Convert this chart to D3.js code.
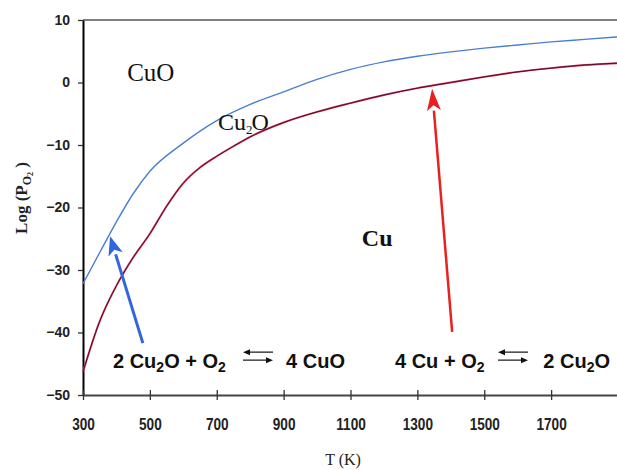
<!DOCTYPE html>
<html>
<head>
<meta charset="utf-8">
<script src="https://cdn.jsdelivr.net/npm/d3@7"></script>
<style>
  html, body { margin: 0; padding: 0; background: #fff; }
  svg { display: block; }
</style>
</head>
<body>
<svg id="chart" width="617" height="470"></svg>
<script>
// ---- data ----
const xTicks = [300, 500, 700, 900, 1100, 1300, 1500, 1700];
const yTicks = [10, 0, -10, -20, -30, -40, -50];

// CuO / Cu2O boundary (blue)
const tempBlue = [300, 350, 400, 450, 500, 600, 700, 800, 900, 1000, 1100, 1200, 1300, 1400, 1500, 1600, 1700, 1800, 1900];
const logBlue  = [-32.2, -27.2, -22.3, -17.8, -14.2, -9.7, -6.1, -3.5, -1.5, 0.5, 2.1, 3.3, 4.2, 4.9, 5.5, 6.0, 6.5, 6.9, 7.3];

// Cu2O / Cu boundary (red)
const tempRed = [300, 350, 400, 450, 500, 550, 600, 650, 700, 750, 800, 900, 1000, 1100, 1200, 1300, 1400, 1500, 1600, 1700, 1800, 1900];
const logRed  = [-46.3, -38.2, -32.5, -28.0, -24.2, -19.8, -16.1, -13.6, -11.8, -10.2, -8.7, -6.4, -4.7, -3.3, -2.0, -0.9, 0.0, 0.9, 1.7, 2.3, 2.8, 3.1];

// ---- layout ----
const svg = d3.select("#chart");
const x = d3.scaleLinear().domain([300, 1900]).range([83, 618]);
const y = d3.scaleLinear().domain([-50, 10]).range([395, 20]);

// top border
svg.append("line").attr("x1", x(300)).attr("x2", 617).attr("y1", y(10)).attr("y2", y(10))
  .attr("stroke", "#555").attr("stroke-width", 1.5);

// y axis
const yAxis = svg.append("g").attr("transform", `translate(${x(300)},0)`)
  .call(d3.axisLeft(y).tickValues(yTicks).tickSize(5).tickSizeOuter(0).tickPadding(8));
yAxis.select(".domain").attr("stroke", "#000").attr("stroke-width", 2);
yAxis.selectAll(".tick line").attr("stroke", "#333").attr("stroke-width", 1.3);
yAxis.selectAll(".tick text")
  .attr("font-family", "'Liberation Sans', Arial, sans-serif")
  .attr("font-weight", "bold").attr("font-size", 14).attr("fill", "#222")
  .attr("x", -13);

// x axis
const xAxis = svg.append("g").attr("transform", `translate(0,${y(-50)})`)
  .call(d3.axisBottom(x).tickValues(xTicks).tickSize(0).tickSizeOuter(0).tickPadding(0)
        .tickFormat(d3.format("d")));
xAxis.select(".domain").attr("stroke", "#444").attr("stroke-width", 2);
xAxis.selectAll(".tick").append("line").attr("y1", -5).attr("y2", 5)
  .attr("stroke", "#333").attr("stroke-width", 1.3);
xAxis.selectAll(".tick text")
  .attr("font-family", "'Liberation Sans', Arial, sans-serif")
  .attr("font-weight", "bold").attr("font-size", 16).attr("fill", "#222")
  .attr("dy", null).attr("y", 35)
  .attr("transform", "scale(0.85,1)");

// axis titles
svg.append("text").attr("x", 343).attr("y", 465).attr("text-anchor", "middle")
  .attr("font-family", "'Liberation Serif', 'Times New Roman', serif").attr("font-size", 16)
  .attr("fill", "#222").text("T (K)");

const yt = svg.append("text").attr("transform", "translate(27,198) rotate(-90)")
  .attr("text-anchor", "middle")
  .attr("font-family", "'Liberation Serif', 'Times New Roman', serif")
  .attr("font-weight", "bold").attr("font-size", 17).attr("fill", "#222");
yt.append("tspan").text("Log (P");
yt.append("tspan").attr("font-size", 12).attr("dy", 4).text("O");
yt.append("tspan").attr("font-size", 8).attr("dy", 2).text("2");
yt.append("tspan").attr("dy", -6).text(" )");

// curves
const line = d3.line().x(d => x(d[0])).y(d => y(d[1])).curve(d3.curveMonotoneX);
svg.append("path").datum(d3.zip(tempRed, logRed)).attr("d", line)
  .attr("fill", "none").attr("stroke", "#d04060").attr("stroke-width", 2);
svg.append("path").datum(d3.zip(tempRed, logRed)).attr("d", line)
  .attr("fill", "none").attr("stroke", "#5a0a26").attr("stroke-width", 1);
svg.append("path").datum(d3.zip(tempBlue, logBlue)).attr("d", line)
  .attr("fill", "none").attr("stroke", "#4a7fd0").attr("stroke-width", 1.4);

// phase labels
const serif = "'Liberation Serif', 'Times New Roman', serif";
svg.append("text").attr("x", x(432)).attr("y", y(0.2)).attr("font-family", serif)
  .attr("font-size", 25).attr("fill", "#111").text("CuO");
const c2 = svg.append("text").attr("x", x(704)).attr("y", y(-7.6)).attr("font-family", serif)
  .attr("font-size", 24).attr("fill", "#111");
c2.append("tspan").text("Cu");
c2.append("tspan").attr("font-size", 13).attr("dy", 4).text("2");
c2.append("tspan").attr("dy", -4).attr("dx", -1).text("O");
svg.append("text").attr("x", x(1134)).attr("y", y(-26.2)).attr("font-family", serif)
  .attr("font-size", 24).attr("font-weight", "bold").attr("fill", "#111").text("Cu");

// big annotation arrows
function bigArrow(t0, l0, t1, l1, color, w, hl, hw) {
  const x0 = x(t0), y0 = y(l0), x1 = x(t1), y1 = y(l1);
  const a = Math.atan2(y1 - y0, x1 - x0);
  const bx = x1 - hl * Math.cos(a), by = y1 - hl * Math.sin(a);
  svg.append("line").attr("x1", x0).attr("y1", y0).attr("x2", bx).attr("y2", by)
    .attr("stroke", color).attr("stroke-width", w);
  const px = -Math.sin(a) * hw / 2, py = Math.cos(a) * hw / 2;
  svg.append("path")
    .attr("d", `M${x1},${y1}L${bx + px},${by + py}L${bx + hl * 0.25 * Math.cos(a)},${by + hl * 0.25 * Math.sin(a)}L${bx - px},${by - py}Z`)
    .attr("fill", color);
}
bigArrow(479, -41.7, 381, -24.6, "#3366dd", 3, 19, 15);
bigArrow(1404, -39.9, 1344, -1.0, "#e8201f", 2.5, 22, 14);

// reaction equations
const sans = "'Liberation Sans', Arial, sans-serif";
function chem(x0, yb, parts, anchor) {
  const t = svg.append("text").attr("font-family", sans).attr("font-weight", "bold")
    .attr("font-size", 20).attr("fill", "#111")
    .attr("x", x0).attr("y", yb).attr("text-anchor", anchor || "start");
  parts.forEach(p => {
    const s = t.append("tspan").text(p[0]);
    if (p[1]) s.attr("font-size", 14).attr("dy", 4);
    else s.attr("dy", p[2] || 0);
  });
}
function eqArrows(xa, xb, yb) {
  const yt = yb - 16, ybm = yb - 8;
  svg.append("line").attr("x1", xa + 5).attr("x2", xb).attr("y1", yt).attr("y2", yt)
    .attr("stroke", "#111").attr("stroke-width", 1.2);
  svg.append("path").attr("d", `M${xa},${yt}L${xa + 7},${yt - 3}L${xa + 7},${yt + 3}Z`).attr("fill", "#111");
  svg.append("line").attr("x1", xa).attr("x2", xb - 5).attr("y1", ybm).attr("y2", ybm)
    .attr("stroke", "#111").attr("stroke-width", 1.2);
  svg.append("path").attr("d", `M${xb},${ybm}L${xb - 7},${ybm - 3}L${xb - 7},${ybm + 3}Z`).attr("fill", "#111");
}
const eqY = y(-45.7);
chem(113, eqY, [["2 Cu"], ["2", true], ["O + O", false, -4], ["2", true]]);
eqArrows(243, 273, eqY);
chem(345, eqY, [["4 CuO"]], "end");
chem(395, eqY, [["4 Cu + O"], ["2", true]]);
eqArrows(498, 528, eqY);
chem(610, eqY, [["2 Cu"], ["2", true], ["O", false, -4]], "end");
</script>
</body>
</html>
